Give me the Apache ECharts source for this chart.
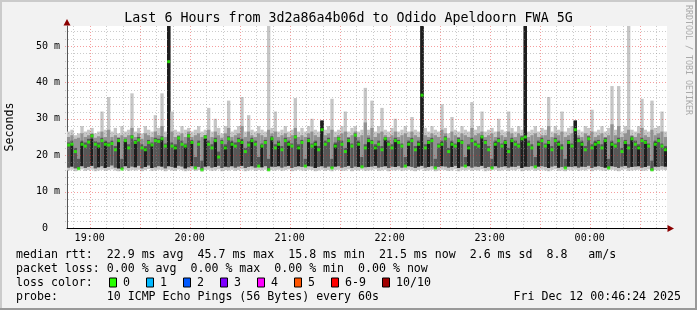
<!DOCTYPE html>
<html><head><meta charset="utf-8">
<script src="https://cdn.jsdelivr.net/npm/echarts@6/dist/echarts.min.js"></script>
<style>html,body{margin:0;padding:0;background:#f2f2f2}#c{width:697px;height:310px}</style>
</head><body><div id="c"></div><script>
// ---------- data ----------
const START_MIN = 46.4;   // 18:46:24 expressed as minutes after 18:00
const END_MIN = 406.4;    // 00:46:24
const STEP_MIN = 2;       // one column = 2 minutes
const Y_MAX = 55.5;

// per-column RTT quantiles (ms)
const lo = [
15.8,16.0,15.6,15.9,16.1,15.7,15.9,16.0,15.6,15.8,
16.0,15.7,15.9,16.1,15.8,15.6,15.9,16.0,15.7,15.9,
15.8,16.0,15.6,15.9,16.2,15.7,15.8,16.0,15.9,15.6,
16.0,15.8,15.7,16.1,15.9,15.6,15.8,16.0,15.7,15.9,
15.5,15.9,16.0,15.7,15.8,16.1,15.6,15.9,15.8,16.0,
15.7,15.9,16.1,15.6,15.8,16.0,15.7,15.9,15.8,16.0,
15.6,15.9,15.8,16.0,15.7,15.9,16.1,15.6,15.8,16.0,
15.8,15.7,16.0,15.9,15.6,15.8,16.0,15.7,15.9,15.6,
15.9,16.0,15.7,15.8,16.1,15.6,15.9,15.8,16.0,15.7,
15.8,15.9,16.1,15.7,15.8,16.0,15.6,15.9,15.8,16.0,
15.7,15.9,16.0,15.8,15.6,15.9,16.1,15.7,15.8,16.0,
15.6,15.8,16.0,15.9,15.7,15.8,16.1,15.6,15.9,15.8,
16.0,15.7,15.9,15.8,16.1,15.6,15.8,15.9,16.0,15.7,
15.8,16.0,15.7,15.9,15.8,16.1,15.6,15.9,15.8,16.0,
15.7,15.9,16.0,15.8,15.6,15.9,16.1,15.7,15.8,15.6,
15.9,15.8,16.0,15.7,15.9,15.8,16.1,15.6,15.9,16.0,
15.8,15.7,15.9,16.0,15.8,15.6,15.9,16.1,15.7,15.8,
15.9,16.0,15.7,15.8,16.1,15.6,15.9,15.8,16.0,15.9];

const dlo = [
16.6,16.9,16.4,16.2,17.0,16.5,16.8,17.1,16.4,16.7,
17.0,16.5,16.8,17.2,16.6,16.4,16.2,17.0,16.5,16.9,
16.7,17.1,16.4,16.8,17.2,16.5,16.7,17.0,16.9,16.4,
17.0,16.8,16.6,17.1,16.9,16.4,16.7,17.0,16.4,16.8,
16.0,16.9,17.0,16.6,16.8,17.1,16.5,16.9,16.7,17.0,
16.6,16.9,17.1,16.5,16.8,17.0,16.6,16.8,16.7,17.0,
15.9,16.9,16.8,17.0,16.6,16.9,17.1,16.5,16.8,17.0,
16.8,16.8,17.0,16.9,16.5,16.8,17.0,16.6,16.9,16.4,
16.9,17.0,16.6,16.8,17.1,16.5,16.9,16.8,16.6,16.7,
16.8,16.9,17.1,16.6,16.8,17.0,16.5,16.9,16.8,17.0,
16.6,16.8,17.0,16.8,16.5,16.9,17.1,16.6,16.8,17.0,
16.4,16.8,17.0,16.9,16.6,16.8,17.1,16.5,16.9,16.8,
17.0,16.6,16.9,16.8,17.1,16.5,16.8,16.4,17.0,16.6,
16.8,17.0,16.6,16.9,16.8,17.1,16.5,16.9,16.8,17.0,
16.6,16.9,17.0,16.8,16.5,16.9,17.1,16.6,16.8,16.4,
16.9,16.8,17.0,16.6,16.9,16.8,17.1,16.5,16.9,17.0,
16.8,16.6,16.4,17.0,16.8,16.5,16.9,17.1,16.6,16.8,
16.9,17.0,16.6,16.8,17.1,15.9,16.9,16.8,17.0,16.9];

const med = [
22.8,23.0,21.0,16.3,23.0,22.5,23.6,25.3,23.0,22.5,
24.0,23.0,22.8,23.2,21.5,24.0,16.2,24.0,22.0,25.0,
23.5,24.2,22.0,21.5,23.5,22.8,24.0,23.8,24.5,22.5,
45.7,22.5,22.0,24.7,23.0,22.5,25.3,23.5,16.5,23.0,
16.0,25.0,23.0,22.0,24.0,19.5,23.5,22.0,24.5,23.0,
22.5,24.0,23.5,21.0,22.8,24.0,23.0,17.0,22.5,23.5,
16.0,24.5,22.0,23.0,21.5,24.0,23.0,22.5,25.0,22.0,
23.5,17.0,24.0,22.5,23.0,21.5,27.0,23.0,24.0,16.5,
22.5,24.5,23.0,21.0,24.0,22.5,25.5,23.0,16.8,22.0,
24.0,23.5,22.0,23.0,21.5,24.5,23.0,22.0,24.0,23.5,
22.5,17.0,23.0,24.0,21.5,23.0,36.5,22.0,23.5,24.0,
16.5,22.5,23.0,24.5,21.0,23.0,22.5,24.0,23.5,17.0,
22.0,24.0,23.0,22.5,25.0,23.5,21.5,16.5,23.0,24.0,
22.5,23.5,21.0,24.0,23.0,22.5,24.5,25.0,23.0,22.0,
16.8,23.0,24.0,22.5,23.5,21.5,24.0,23.0,22.0,16.5,
23.5,22.5,27.0,24.0,23.0,21.5,24.5,22.0,23.0,23.5,
22.0,24.0,16.5,23.0,22.5,24.0,21.0,23.5,22.0,24.5,
23.0,22.0,24.0,23.5,22.5,16.0,23.0,24.0,22.5,21.5];

// top of the darkest (core) band; values below dlo mean no core band
const core = [
16,23.0,16,16,23.5,16,16,24.5,16,22.8,
16,23.5,16,16,16,24.0,16,23.8,16,16,
23.8,16,16,22.0,16,23.0,16,16,24.5,16,
60,16,22.5,16,16,22.8,16,23.8,16,16,
16,24.5,16,16,24.0,16,16,22.5,16,23.5,
16,16,24.0,16,16,24.2,16,16,22.8,16,
16,24.8,16,23.5,16,16,23.5,16,16,22.5,
16,16,24.2,16,23.5,16,29.5,16,16,16,
23.0,16,16,16,24.2,16,16,23.5,16,16,
24.2,16,22.5,16,16,24.5,16,16,24.2,16,
16,16,23.5,16,16,23.5,60,16,23.8,16,
16,16,23.5,16,16,23.5,16,24.2,16,16,
22.5,16,16,16,25.0,16,16,16,23.5,16,
16,23.8,16,24.2,16,16,24.8,60,16,16,
16,23.5,16,16,23.8,16,16,23.5,16,16,
23.8,16,29.5,16,23.5,16,16,16,23.5,16,
16,24.2,16,23.5,16,16,16,23.8,16,24.8,
16,22.5,16,23.8,16,16,23.5,16,16,22.0];

const dhi = [
23.5,24.0,22.0,19.0,24.0,23.5,24.5,25.8,23.8,23.5,
24.8,24.0,23.5,24.0,22.5,24.8,19.0,24.5,23.0,25.5,
24.2,25.0,23.0,22.5,24.2,23.5,24.8,24.5,25.2,23.2,
60.0,23.5,23.0,25.2,24.0,23.2,25.8,24.2,19.5,24.0,
18.5,25.5,24.0,23.0,24.8,21.0,24.2,23.0,25.2,24.0,
23.5,24.8,24.5,22.0,23.8,24.8,24.0,19.5,23.2,24.2,
19.0,25.2,23.0,24.0,22.5,24.8,24.0,23.2,25.5,23.0,
24.2,19.0,24.8,23.2,24.0,22.5,29.5,24.0,24.8,19.0,
23.5,25.0,24.0,22.0,24.8,23.2,26.0,24.0,19.5,23.0,
24.8,24.2,23.0,24.0,22.5,25.0,24.0,23.0,24.8,24.2,
23.2,19.5,24.0,24.8,22.5,24.0,60.0,23.0,24.2,24.8,
19.0,23.2,24.0,25.2,22.0,24.0,23.2,24.8,24.2,19.5,
23.0,24.8,24.0,23.2,25.5,24.2,22.5,19.0,24.0,24.8,
23.2,24.2,22.0,24.8,24.0,23.2,25.2,60.0,24.0,23.0,
19.5,24.0,24.8,23.2,24.2,22.5,24.8,24.0,23.0,19.0,
24.2,23.2,29.5,24.8,24.0,22.5,25.2,23.0,24.0,24.2,
23.0,24.8,19.0,24.0,23.2,24.8,22.0,24.2,23.0,25.2,
24.0,23.0,24.8,24.2,23.2,18.5,24.0,24.8,23.2,22.5];

const mhi = [
25.0,25.5,24.5,24.8,26.0,25.0,25.5,26.0,24.8,25.2,
26.5,25.0,27.0,25.0,25.5,24.8,25.5,25.0,25.5,27.5,
25.0,26.0,24.5,26.0,25.5,25.0,26.5,25.5,28.0,25.0,
60.0,26.5,25.0,25.5,26.0,25.0,26.5,25.0,25.5,26.0,
25.0,25.5,27.0,25.0,26.5,25.5,24.8,26.0,27.5,25.0,
25.5,26.0,28.0,25.0,26.5,25.5,25.0,26.0,25.5,25.0,
27.0,26.0,26.5,25.0,25.5,26.0,25.0,25.5,27.5,25.0,
25.5,25.0,26.0,26.5,25.5,25.0,29.5,25.5,26.0,27.0,
25.0,25.5,26.0,26.5,25.0,25.5,26.5,25.0,25.5,29.0,
25.5,27.5,25.0,26.0,26.5,25.5,25.0,25.5,26.5,25.0,
25.5,26.0,25.0,26.5,25.5,25.0,60.0,25.5,25.0,26.0,
25.5,25.0,27.0,26.0,24.8,26.5,25.5,25.0,26.0,25.5,
25.0,27.5,25.5,26.0,26.5,25.0,25.5,26.0,25.0,26.5,
25.5,25.0,26.5,26.0,25.0,26.0,25.5,60.0,25.0,25.5,
26.0,25.0,25.5,25.5,28.0,25.0,26.0,25.5,26.5,25.0,
25.5,26.0,29.5,25.5,25.0,26.0,25.5,26.5,25.0,25.5,
26.0,25.0,25.5,28.5,25.5,28.0,25.0,26.0,27.0,25.5,
25.0,26.0,27.5,25.5,25.0,27.0,25.5,26.0,26.5,25.0];

const hi = [
26.5,27.0,25.5,26.0,28.0,26.5,27.0,27.5,26.0,26.5,
32.0,27.0,36.0,26.5,27.5,26.0,28.0,26.5,27.0,37.0,
26.5,27.5,26.0,28.0,27.0,26.5,31.0,27.5,37.0,26.5,
60.0,32.0,27.0,26.5,28.0,27.0,27.5,26.5,27.0,28.0,
26.5,27.0,33.0,26.5,30.0,27.5,26.0,28.0,35.0,26.5,
27.0,28.0,36.0,26.5,31.0,27.0,26.5,28.0,27.0,26.5,
60.0,27.5,32.0,26.5,27.0,28.0,26.5,27.0,35.7,26.5,
27.5,26.5,28.0,30.0,27.0,26.5,29.5,27.0,28.0,35.5,
26.5,27.0,28.0,32.0,26.5,27.5,28.0,26.5,27.0,38.5,
27.0,35.0,26.5,28.0,33.0,27.0,26.5,27.5,30.0,26.5,
27.0,28.0,26.5,30.5,27.0,26.5,60.0,27.5,26.5,28.0,
27.0,26.5,34.0,27.5,26.0,30.5,27.0,26.5,28.0,27.0,
26.5,34.6,27.0,28.0,32.0,26.5,27.0,27.5,26.5,30.0,
27.0,26.5,32.0,27.5,26.5,28.0,27.0,60.0,26.5,27.0,
28.0,26.5,27.5,27.0,36.0,26.5,28.0,27.0,32.0,26.5,
27.5,28.0,29.5,27.0,26.5,28.0,27.5,32.5,26.5,27.0,
28.0,26.5,27.5,39.0,27.0,39.0,26.5,28.0,60.0,27.0,
26.5,28.0,35.5,27.0,26.5,35.0,27.5,28.0,32.0,26.5];

// axes / grid
const hourTicks  = [60,120,180,240,300,360];
const hourLabels = ['19:00','20:00','21:00','22:00','23:00','00:00'];
const majorGridX = [60,90,120,150,180,210,240,270,300,330,360,390];
const minorGridX = [50,70,80,100,110,130,140,160,170,190,200,220,230,250,260,280,290,310,320,340,350,370,380,400];
const yTicks     = [0,10,20,30,40,50];
const majorGridY = [10,20,30,40,50];
const minorGridY = [2,4,6,8,12,14,16,18,22,24,26,28,32,34,36,38,42,44,46,48,52,54];

// texts
const titleText = 'Last 6 Hours from 3d2a86a4b06d to Odido Apeldoorn FWA 5G';
const yName = 'Seconds';
const rttLine  = 'median rtt:  22.9 ms avg  45.7 ms max  15.8 ms min  21.5 ms now  2.6 ms sd  8.8   am/s';
const lossLine = 'packet loss: 0.00 % avg  0.00 % max  0.00 % min  0.00 % now';
const lossColorHead = 'loss color:';
const lossLabels = ['0','1','2','3','4','5','6-9','10/10'];
const lossColors = ['#26ff00','#00b8ff','#0059ff','#7e00ff','#ff00ff','#ff5500','#ff0000','#a10000'];
const probeLine = 'probe:       10 ICMP Echo Pings (56 Bytes) every 60s';
const dateText = 'Fri Dec 12 00:46:24 2025';
const watermark = 'RRDTOOL / TOBI OETIKER';

// ---------- build ----------
const MONO = 'DejaVu Sans Mono';
const smokeData = lo.map((v, i) => [START_MIN + i * STEP_MIN, v, dlo[i], core[i], dhi[i], mhi[i], hi[i]]);
const medData = med.map((v, i) => [START_MIN + i * STEP_MIN + STEP_MIN / 2, v]);
const gridData = [];
minorGridX.forEach(v => gridData.push([v, 0, 0, 0]));
minorGridY.forEach(v => gridData.push([START_MIN, v, 1, 0]));
majorGridX.forEach(v => gridData.push([v, 0, 0, 1]));
majorGridY.forEach(v => gridData.push([START_MIN, v, 1, 1]));

const chart = echarts.init(document.getElementById('c'), null, {renderer: 'canvas'});

const graphics = [];
graphics.push({type:'rect', shape:{x:0,y:0,width:697,height:2}, style:{fill:'#cbcbcb'}, silent:true});
graphics.push({type:'rect', shape:{x:0,y:0,width:2,height:310}, style:{fill:'#cbcbcb'}, silent:true});
graphics.push({type:'rect', shape:{x:0,y:308,width:697,height:2}, style:{fill:'#999999'}, silent:true});
graphics.push({type:'rect', shape:{x:695,y:0,width:2,height:310}, style:{fill:'#999999'}, silent:true});
graphics.push({type:'text', x:348.5, y:19, silent:true,
  style:{text:titleText, font:'13.3px "'+MONO+'"', fill:'#000', textAlign:'center', textVerticalAlign:'middle'}});
graphics.push({type:'text', x:10, y:127, rotation:Math.PI/2, silent:true,
  style:{text:yName, font:'11.6px "'+MONO+'"', fill:'#000', textAlign:'center', textVerticalAlign:'middle'}});
graphics.push({type:'text', x:688, y:5, rotation:-Math.PI/2, silent:true,
  style:{text:watermark, font:'8.3px "'+MONO+'"', fill:'#aaaaaa', textAlign:'left', textVerticalAlign:'middle'}});
graphics.push({type:'polygon', shape:{points:[[67,19],[63.5,25.5],[70.5,25.5]]}, style:{fill:'#8b0000'}, silent:true, z:10});
graphics.push({type:'polygon', shape:{points:[[674,228.5],[667.5,225],[667.5,232]]}, style:{fill:'#8b0000'}, silent:true, z:10});
const rows = [254.5, 268.5, 282.5, 296.5];
const legFont = '11.6px "'+MONO+'"';
graphics.push({type:'text', x:16, y:rows[0], silent:true, style:{text:rttLine, font:legFont, fill:'#000', textVerticalAlign:'middle'}});
graphics.push({type:'text', x:16, y:rows[1], silent:true, style:{text:lossLine, font:legFont, fill:'#000', textVerticalAlign:'middle'}});
graphics.push({type:'text', x:16, y:rows[2], silent:true, style:{text:lossColorHead, font:legFont, fill:'#000', textVerticalAlign:'middle'}});
let bx = 109;
lossLabels.forEach((lab, k) => {
  graphics.push({type:'rect', shape:{x:bx+0.5, y:rows[2]-4.5, width:7, height:9}, style:{fill:lossColors[k], stroke:'#000', lineWidth:1}, silent:true});
  graphics.push({type:'text', x:bx+14, y:rows[2], silent:true, style:{text:lab, font:legFont, fill:'#000', textVerticalAlign:'middle'}});
  bx = bx + 14 + lab.length * 7 + 16;
});
graphics.push({type:'text', x:16, y:rows[3], silent:true, style:{text:probeLine, font:legFont, fill:'#000', textVerticalAlign:'middle'}});
graphics.push({type:'text', x:681, y:rows[3], silent:true, style:{text:dateText, font:legFont, fill:'#000', textAlign:'right', textVerticalAlign:'middle'}});

const option = {
  backgroundColor: '#f2f2f2',
  animation: false,
  grid: {left:67, top:26, width:600, height:202, show:true, backgroundColor:'#ffffff', borderWidth:0},
  xAxis: {
    type:'value', min:START_MIN, max:END_MIN,
    axisLine:{show:true, lineStyle:{color:'#000', width:1}},
    axisTick:{show:false},
    splitLine:{show:false},
    axisLabel:{customValues:hourTicks, formatter:v => hourLabels[hourTicks.indexOf(v)] || '',
      fontFamily:MONO, fontSize:10, color:'#000', margin:5}
  },
  yAxis: {
    type:'value', min:0, max:Y_MAX, interval:10,
    axisLine:{show:true, lineStyle:{color:'#555', width:1}},
    axisTick:{show:false},
    splitLine:{show:false},
    axisLabel:{customValues:yTicks, formatter:v => v === 0 ? '0  ' : v + ' m',
      fontFamily:MONO, fontSize:10, color:'#000', margin:7}
  },
  graphic: graphics,
  series: [
    {
      type:'custom', z:2, silent:true,
      data: smokeData,
      encode:{x:0, y:[1,6]},
      renderItem: (params, api) => {
        const cs = params.coordSys;
        const t = api.value(0);
        const xa = api.coord([t, 0])[0];
        const xb = api.coord([t + STEP_MIN, 0])[0];
        const Y = v => Math.max(cs.y, api.coord([t, v])[1]);
        const kids = [];
        const band = (a, b, fill) => { if (b > a) kids.push({type:'rect',
          shape:{x:xa, y:Y(b), width:xb - xa, height:Y(a) - Y(b)}, style:{fill:fill}}); };
        band(api.value(1), api.value(6), '#c6c6c6');
        band(api.value(2), api.value(5), '#929292');
        band(api.value(2), api.value(4), '#575757');
        band(api.value(2), api.value(3), '#1e1e1e');
        return {type:'group', children:kids};
      }
    },
    {
      type:'custom', z:3, silent:true,
      data: gridData,
      encode:{x:0, y:1},
      renderItem: (params, api) => {
        const cs = params.coordSys;
        const dir = api.value(2), major = api.value(3);
        const color = major ? 'rgba(232,40,40,0.45)' : 'rgba(140,140,140,0.45)';
        let shape;
        if (dir === 0) {
          const x = Math.round(api.coord([api.value(0), 0])[0]) + 0.5;
          shape = {x1:x, y1:cs.y, x2:x, y2:cs.y + cs.height + 2};
        } else {
          const y = Math.round(api.coord([START_MIN, api.value(1)])[1]) + 0.5;
          shape = {x1:cs.x - 2, y1:y, x2:cs.x + cs.width, y2:y};
        }
        return {type:'line', shape:shape, style:{stroke:color, lineWidth:1, lineDash:[1,2]}};
      }
    },
    {
      type:'scatter', z:4, silent:true,
      data: medData,
      symbol:'rect', symbolSize:[3,3],
      itemStyle:{color:'#26ff00'}
    }
  ]
};
chart.setOption(option);
</script></body></html>
